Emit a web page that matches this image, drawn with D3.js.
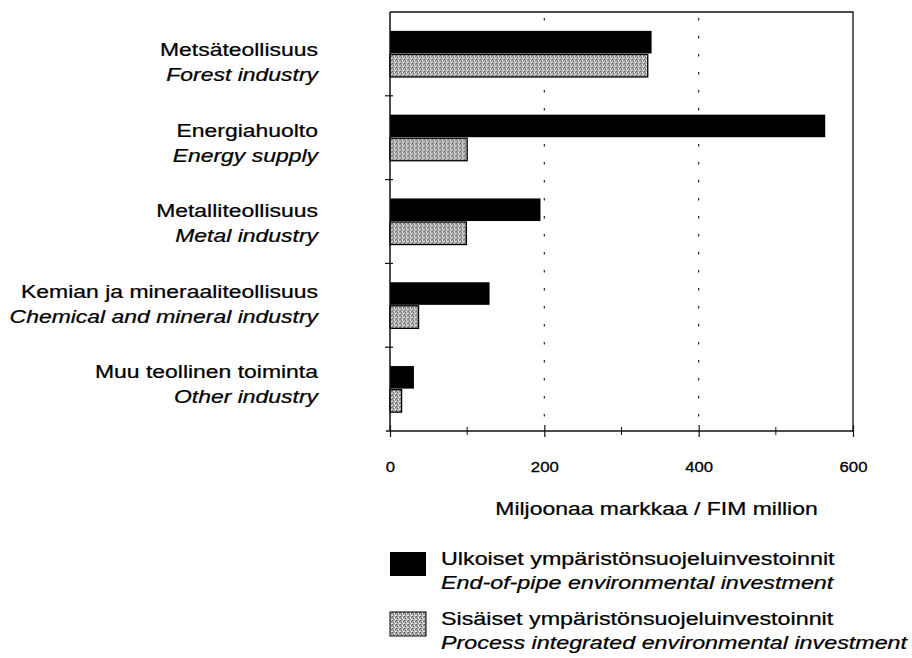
<!DOCTYPE html>
<html>
<head>
<meta charset="utf-8">
<script src="https://d3js.org/d3.v7.min.js"></script>
<style>
  body { margin: 0; background: #fff; }
  svg { display: block; font-family: "Liberation Sans", Arial, Helvetica, sans-serif; }
</style>
</head>
<body>
<div id="chart"></div>
<script>
var svgWidth = 912;
var svgHeight = 658;

// data
var categoriesFi = ["Metsäteollisuus", "Energiahuolto", "Metalliteollisuus", "Kemian ja mineraaliteollisuus", "Muu teollinen toiminta"];
var categoriesEn = ["Forest industry", "Energy supply", "Metal industry", "Chemical and mineral industry", "Other industry"];
var endOfPipe = [339, 564, 195, 129, 31];
var processIntegrated = [334, 100, 99, 37, 15];
var keys = ["endOfPipe", "processIntegrated"];
var majorTicks = [0, 200, 400, 600];
var minorTicks = [100, 300, 500];
var gridTicks = [200, 400];
var axisTitle = "Miljoonaa markkaa / FIM million";
var legendFi = ["Ulkoiset ympäristönsuojeluinvestoinnit", "Sisäiset ympäristönsuojeluinvestoinnit"];
var legendEn = ["End-of-pipe environmental investment", "Process integrated environmental investment"];

var plot = {left: 390, right: 853, top: 12, bottom: 431};
var stretch = 1.24; // the scanned lettering is wider than the font

var rows = categoriesFi.map(function(c, i) {
    return {fi: c, en: categoriesEn[i], endOfPipe: endOfPipe[i], processIntegrated: processIntegrated[i]};
});

var svg = d3.select("#chart").append("svg")
    .attr("width", svgWidth)
    .attr("height", svgHeight);

// grey stipple fill
var defs = svg.append("defs");
var pat = defs.append("pattern")
    .attr("id", "stipple")
    .attr("patternUnits", "userSpaceOnUse")
    .attr("width", 4).attr("height", 4);
pat.append("rect").attr("width", 4).attr("height", 4).attr("fill", "#a9a9a9");
[[0, 0, "#4a4a4a"], [2, 1, "#ffffff"], [1, 2, "#5a5a5a"], [3, 3, "#eeeeee"], [3, 1, "#707070"], [0, 3, "#e0e0e0"], [2, 2, "#d8d8d8"]].forEach(function(p) {
    pat.append("rect").attr("x", p[0]).attr("y", p[1]).attr("width", 1).attr("height", 1).attr("fill", p[2]);
});

var x = d3.scaleLinear()
    .domain([0, 600])
    .range([plot.left, plot.right]);

var y0 = d3.scaleBand()
    .domain(categoriesFi)
    .range([plot.top, plot.bottom])
    .paddingInner(0.45)
    .paddingOuter(0.225);

var y1 = d3.scaleBand()
    .domain(keys)
    .range([0, y0.bandwidth()])
    .paddingInner(0.04);

// label baselines sit slightly off the bar groups in the scan
var yLabel = d3.scalePoint()
    .domain(categoriesFi)
    .range([56, 378]);

var color = {endOfPipe: "#000", processIntegrated: "url(#stipple)"};

// dotted gridlines
svg.append("g").selectAll("line")
    .data(gridTicks)
    .enter().append("line")
    .attr("x1", function(d) { return x(d); })
    .attr("x2", function(d) { return x(d); })
    .attr("y1", plot.top + 6)
    .attr("y2", plot.bottom)
    .attr("stroke", "#222")
    .attr("stroke-width", 1.2)
    .attr("stroke-dasharray", "2.5,15.5");

// frame: top and right
svg.append("path")
    .attr("d", "M" + plot.left + "," + plot.top + "H" + plot.right + "V" + plot.bottom)
    .attr("fill", "none")
    .attr("stroke", "#111")
    .attr("stroke-width", 1.3);

// bars
var group = svg.append("g").selectAll("g")
    .data(rows)
    .enter().append("g")
    .attr("transform", function(d) { return "translate(0," + y0(d.fi) + ")"; });

group.selectAll("rect")
    .data(function(d) { return keys.map(function(k) { return {key: k, value: d[k]}; }); })
    .enter().append("rect")
    .attr("x", x(0))
    .attr("y", function(d) { return y1(d.key); })
    .attr("width", function(d) { return x(d.value) - x(0); })
    .attr("height", y1.bandwidth())
    .attr("fill", function(d) { return color[d.key]; })
    .attr("stroke", "#000")
    .attr("stroke-width", function(d) { return d.key == "endOfPipe" ? 0 : 1.3; });

// left axis line and category boundary ticks
svg.append("line")
    .attr("x1", plot.left).attr("x2", plot.left)
    .attr("y1", plot.top).attr("y2", plot.bottom)
    .attr("stroke", "#111").attr("stroke-width", 1.5);

var boundaries = categoriesFi.slice(1).map(function(c) {
    return y0(c) - y0.step() * y0.paddingInner() / 2;
});
svg.append("g").selectAll("line")
    .data(boundaries)
    .enter().append("line")
    .attr("x1", plot.left - 5).attr("x2", plot.left + 3)
    .attr("y1", function(d) { return d; })
    .attr("y2", function(d) { return d; })
    .attr("stroke", "#111").attr("stroke-width", 1.2);

// bottom axis
var xAxis = d3.axisBottom(x)
    .tickValues(majorTicks)
    .tickSize(6)
    .tickPadding(24)
    .tickFormat(d3.format("d"));

var gx = svg.append("g")
    .attr("transform", "translate(0," + plot.bottom + ")")
    .call(xAxis);
gx.select(".domain").remove();
gx.selectAll(".tick line").attr("y1", -6).attr("y2", 6).attr("stroke", "#111").attr("stroke-width", 1.2);
gx.selectAll(".tick text")
    .attr("font-size", 15.5)
    .attr("font-family", "Liberation Sans, Arial, sans-serif")
    .attr("fill", "#000")
    .attr("stroke", "#000")
    .attr("stroke-width", 0.3)
    .attr("transform", "scale(1.08,1)");

svg.append("g").selectAll("line")
    .data(minorTicks)
    .enter().append("line")
    .attr("x1", function(d) { return x(d); })
    .attr("x2", function(d) { return x(d); })
    .attr("y1", plot.bottom - 4)
    .attr("y2", plot.bottom + 4)
    .attr("stroke", "#111").attr("stroke-width", 1);

svg.append("line")
    .attr("x1", plot.left - 4).attr("x2", plot.right)
    .attr("y1", plot.bottom).attr("y2", plot.bottom)
    .attr("stroke", "#111").attr("stroke-width", 1.5);

// helper for stretched text
function stretchedText(parent, tx, ty, str, anchor, italic, size) {
    parent.append("g")
        .attr("transform", "translate(" + tx + "," + ty + ") scale(" + stretch + ",1)")
        .append("text")
        .attr("text-anchor", anchor)
        .attr("font-size", size)
        .attr("font-style", italic ? "italic" : "normal")
        .attr("fill", "#000")
        .attr("stroke", "#000")
        .attr("stroke-width", 0.25)
        .text(str);
}

// category labels
var labels = svg.append("g");
rows.forEach(function(d) {
    stretchedText(labels, 318, yLabel(d.fi), d.fi, "end", false, 18.5);
    stretchedText(labels, 318, yLabel(d.fi) + 25, d.en, "end", true, 18.5);
});

// axis title
stretchedText(svg, x(300) + 35, 515, axisTitle, "middle", false, 18.5);

// legend
var legend = svg.append("g");
var legendTop = [552, 612];
keys.forEach(function(k, i) {
    legend.append("rect")
        .attr("x", 390)
        .attr("y", legendTop[i])
        .attr("width", 36)
        .attr("height", 24)
        .attr("fill", color[k])
        .attr("stroke", "#000")
        .attr("stroke-width", i == 0 ? 0 : 1);
    stretchedText(legend, 441, legendTop[i] + 13, legendFi[i], "start", false, 18.8);
    stretchedText(legend, 441, legendTop[i] + 37, legendEn[i], "start", true, 18.8);
});
</script>
</body>
</html>
